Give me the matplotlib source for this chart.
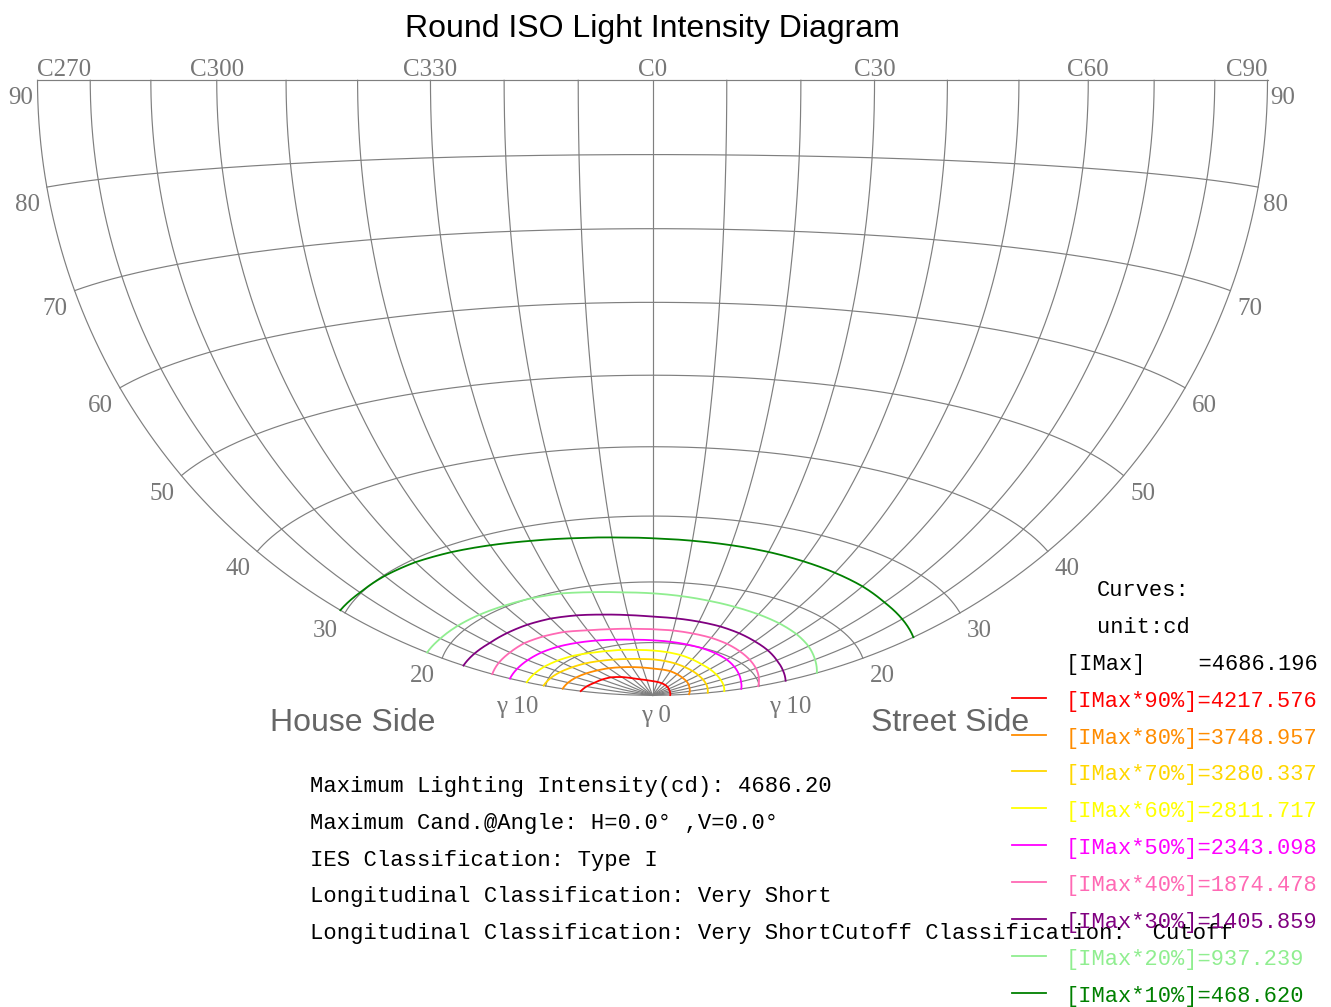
import numpy as np
import matplotlib
matplotlib.use("Agg")
import matplotlib.pyplot as plt

# ---------------- data ----------------
# C-plane angles (C270 .. C0 .. C90, written as -90 .. 90)
C_ANGLES = [-90, -80, -70, -60, -50, -40, -30, -20, -10, 0, 10, 20, 30, 40, 50, 60, 70, 80, 90]

# gamma angle (deg) of each iso-intensity curve at every C-plane
gamma_90pct = [6.7, 6.3, 5.85, 5.55, 5.2, 4.6, 3.9, 3.4, 3.1, 2.9, 2.75, 2.6, 2.4, 2.2, 2.0, 1.85, 1.75, 1.7, 1.65]
gamma_80pct = [8.4, 8.1, 7.75, 7.35, 6.95, 6.6, 6.2, 5.85, 5.55, 5.3, 5.2, 5.05, 4.75, 4.45, 4.2, 3.95, 3.7, 3.55, 3.4]
gamma_70pct = [10.2, 9.85, 9.45, 9.0, 8.6, 8.15, 7.75, 7.4, 7.15, 7.0, 6.8, 6.55, 6.25, 6.0, 5.75, 5.55, 5.4, 5.25, 5.15]
gamma_60pct = [11.8, 11.45, 11.1, 10.7, 10.3, 9.8, 9.4, 9.1, 8.8, 8.6, 8.4, 8.15, 7.8, 7.45, 7.25, 7.05, 6.9, 6.8, 6.7]
gamma_50pct = [13.4, 13.15, 12.9, 12.65, 12.3, 11.85, 11.4, 10.95, 10.6, 10.4, 10.25, 10.1, 9.95, 9.75, 9.5, 9.15, 8.8, 8.5, 8.3]
gamma_40pct = [15.1, 15.0, 14.85, 14.75, 14.4, 13.95, 13.25, 12.8, 12.5, 12.3, 12.2, 12.05, 11.9, 11.65, 11.3, 10.95, 10.6, 10.25, 9.9]
gamma_30pct = [17.9, 17.5, 17.1, 16.9, 16.7, 16.4, 15.9, 15.3, 14.8, 14.4, 14.25, 14.1, 13.95, 13.7, 13.4, 13.15, 12.85, 12.65, 12.5]
gamma_20pct = [21.5, 21.1, 20.8, 20.5, 20.2, 19.95, 19.6, 19.0, 18.5, 18.2, 17.9, 17.6, 17.35, 17.15, 16.95, 16.7, 16.35, 15.9, 15.5]
gamma_10pct = [30.5, 30.1, 29.9, 29.6, 29.1, 28.5, 27.9, 27.4, 27.0, 26.7, 26.5, 26.35, 26.2, 26.0, 25.8, 25.6, 25.3, 25.2, 25.1]

IMAX = 4686.196
level_labels = ["[IMax*90%]", "[IMax*80%]", "[IMax*70%]", "[IMax*60%]", "[IMax*50%]",
                "[IMax*40%]", "[IMax*30%]", "[IMax*20%]", "[IMax*10%]"]
level_values = [4217.576, 3748.957, 3280.337, 2811.717, 2343.098, 1874.478, 1405.859, 937.239, 468.620]
level_colors = ["#FF0000", "#FF8C00", "#FFD700", "#FFFF00", "#FF00FF",
                "#FF69B4", "#800080", "#90EE90", "#008000"]
level_gammas = [gamma_90pct, gamma_80pct, gamma_70pct, gamma_60pct, gamma_50pct,
                gamma_40pct, gamma_30pct, gamma_20pct, gamma_10pct]

top_C_ticks = [-90, -60, -30, 0, 30, 60, 90]
top_C_labels = ["C270", "C300", "C330", "C0", "C30", "C60", "C90"]
gamma_ticks = [90, 80, 70, 60, 50, 40, 30, 20, 10]
gamma_tick_labels = ["90", "80", "70", "60", "50", "40", "30", "20", "\u03b3 10"]

info_lines = [
    "Maximum Lighting Intensity(cd): 4686.20",
    "Maximum Cand.@Angle: H=0.0\u00b0 ,V=0.0\u00b0",
    "IES Classification: Type I",
    "Longitudinal Classification: Very Short",
    "Longitudinal Classification: Very ShortCutoff Classification:  Cutoff",
]

# ---------------- projection (perspective view of lower hemisphere) ----------------
D = 2.25


def proj(C, g):
    C = np.radians(np.asarray(C, dtype=float))
    g = np.radians(np.asarray(g, dtype=float))
    s = D / (D + np.sin(g) * np.cos(C))
    return np.sin(g) * np.sin(C) * s, -np.cos(g) * s


W, H = 1331, 1007
X0, Y0, R = 652.5, 80.3, 615.0


def P(px, py):
    return (px - X0) / R, (Y0 - py) / R


fig = plt.figure(figsize=(W / 100, H / 100), dpi=100)
ax = fig.add_axes([0, 0, 1, 1])
ax.set_xlim(-X0 / R, (W - X0) / R)
ax.set_ylim((Y0 - H) / R, Y0 / R)
ax.axis("off")

grid_color = "#7f7f7f"
grid_lw = 0.85
label_color = "#777777"
serif = ["Liberation Serif", "DejaVu Serif"]
mono = ["Liberation Mono", "DejaVu Sans Mono"]
sans = ["Liberation Sans", "DejaVu Sans"]

# gamma circles
cc = np.linspace(-90, 90, 721)
for g in range(10, 91, 10):
    x, y = proj(cc, g)
    ax.plot(x, y, color=grid_color, lw=grid_lw, zorder=1)
# C meridians
gg = np.linspace(0, 90, 361)
for c in range(-90, 91, 10):
    x, y = proj(c, gg)
    ax.plot(x, y, color=grid_color, lw=grid_lw, zorder=1)

# iso-intensity curves (drawn through the read values along the sphere)
c_fine = np.linspace(-90, 90, 361)
for gam, col in zip(level_gammas, level_colors):
    g_path = np.interp(c_fine, C_ANGLES, gam)
    x, y = proj(c_fine, g_path)
    ax.plot(x, y, color=col, lw=1.3, zorder=3, solid_joinstyle="round")

# top C labels
for c, lab in zip(top_C_ticks, top_C_labels):
    x, y = proj(c, 90)
    ha = "left" if c == -90 else ("right" if c == 90 else "center")
    ax.annotate(lab, (x, y), xytext=(0, 4), textcoords="offset pixels", ha=ha,
                va="baseline", fontsize=18, color=label_color, family=serif)

# gamma labels, both sides
for g, lab in zip(gamma_ticks, gamma_tick_labels):
    dy = -27 if g == 10 else -24
    xl, yl = proj(-90, g)
    dxl = -4 if g == 90 else -7
    ax.annotate(lab, (xl, yl), xytext=(dxl, dy), textcoords="offset pixels", ha="right",
                va="baseline", fontsize=18, color=label_color, family=serif)
    xr, yr = proj(90, g)
    dxr = {90: 3, 80: 5, 10: 10}.get(g, 7)
    ax.annotate(lab, (xr, yr), xytext=(dxr, dy), textcoords="offset pixels", ha="left",
                va="baseline", fontsize=18, color=label_color, family=serif)
x0g, y0g = proj(0, 0)
ax.annotate("\u03b3 0", (x0g, y0g), xytext=(3, -27), textcoords="offset pixels", ha="center",
            va="baseline", fontsize=18, color=label_color, family=serif)

# title and side names
ax.text(*P(652.5, 37), "Round ISO Light Intensity Diagram", ha="center", va="baseline",
        fontsize=23, color="black", family=sans)
ax.text(*P(270, 731), "House Side", ha="left", va="baseline", fontsize=23,
        color="#666666", family=sans)
ax.text(*P(871, 731), "Street Side", ha="left", va="baseline", fontsize=23,
        color="#666666", family=sans)

# info block
for i, line in enumerate(info_lines):
    ax.text(*P(310, 792 + 36.8 * i), line, ha="left", va="baseline", fontsize=16,
            color="black", family=mono)

# legend
ax.text(*P(1097, 596), "Curves:", ha="left", va="baseline", fontsize=15.8, color="black", family=mono)
ax.text(*P(1097, 633), "unit:cd", ha="left", va="baseline", fontsize=15.8, color="black", family=mono)
ax.text(*P(1066, 669.5), "[IMax]    =%.3f" % IMAX, ha="left", va="baseline", fontsize=15.8,
        color="black", family=mono)
for i, (lab, val, col) in enumerate(zip(level_labels, level_values, level_colors)):
    yc = 697.7 + 36.85 * i
    xa, ya = P(1012, yc)
    xb, _ = P(1046, yc)
    ax.plot([xa, xb], [ya, ya], color=col, lw=1.3)
    ax.text(*P(1066, yc + 9), "%s=%.3f" % (lab, val), ha="left", va="baseline",
            fontsize=15.8, color=col, family=mono)

fig.savefig("out.png", dpi=100)
